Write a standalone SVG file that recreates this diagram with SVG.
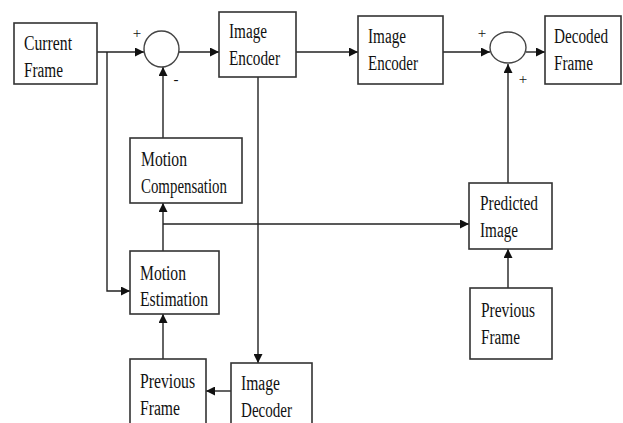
<svg xmlns="http://www.w3.org/2000/svg" width="623" height="423" viewBox="0 0 623 423">
<defs>
<marker id="arr" markerUnits="userSpaceOnUse" markerWidth="9" markerHeight="9" viewBox="0 0 10 10" refX="10" refY="5" orient="auto">
<path d="M0,0 L10,5 L0,10 z" fill="#111"/>
</marker>
<style>
rect.box{fill:#fff;stroke:#333;stroke-width:1.6}
ellipse.sum{fill:#fff;stroke:#444;stroke-width:1.4}
text{font-family:"Liberation Serif","Times New Roman",serif;font-size:20px;fill:#111}
text.sign{font-size:15px;text-anchor:middle}
#connectors path{fill:none;stroke:#222;stroke-width:1.4}
</style>
</defs>
<rect width="623" height="423" fill="#fff"/>
<g id="connectors">
<path d="M97,52 L144,52" marker-end="url(#arr)"/>
<path d="M107,52 L107,291 L130,291" marker-end="url(#arr)"/>
<path d="M179,52 L219,52" marker-end="url(#arr)"/>
<path d="M296,52 L358,52" marker-end="url(#arr)"/>
<path d="M443,52 L490,52" marker-end="url(#arr)"/>
<path d="M526,52 L545,52" marker-end="url(#arr)"/>
<path d="M508,183 L508,64" marker-end="url(#arr)"/>
<path d="M163,138 L163,67" marker-end="url(#arr)"/>
<path d="M163,251 L163,203" marker-end="url(#arr)"/>
<path d="M163,359 L163,314" marker-end="url(#arr)"/>
<path d="M258,77 L258,363" marker-end="url(#arr)"/>
<path d="M231,391 L206,391" marker-end="url(#arr)"/>
<path d="M163,224 L469,224" marker-end="url(#arr)"/>
<path d="M508,288 L508,249" marker-end="url(#arr)"/>
</g>
<g id="sum1">
<ellipse class="sum" cx="161.5" cy="49" rx="17.5" ry="18"/>
<text class="sign" x="137" y="38">+</text>
<text class="sign" x="176" y="84">-</text>
</g>
<g id="sum2">
<ellipse class="sum" cx="508" cy="47.5" rx="18" ry="15.5"/>
<text class="sign" x="482" y="38">+</text>
<text class="sign" x="523" y="84">+</text>
</g>
<g id="current-frame">
<rect class="box" x="14" y="23" width="83" height="61"/>
<text x="24" y="50" textLength="48" lengthAdjust="spacingAndGlyphs">Current</text>
<text x="24" y="77" textLength="39" lengthAdjust="spacingAndGlyphs">Frame</text>
</g>
<g id="image-encoder-1">
<rect class="box" x="219" y="12" width="77" height="65"/>
<text x="229" y="38" textLength="38" lengthAdjust="spacingAndGlyphs">Image</text>
<text x="229" y="65" textLength="51" lengthAdjust="spacingAndGlyphs">Encoder</text>
</g>
<g id="image-encoder-2">
<rect class="box" x="358" y="16" width="85" height="68"/>
<text x="368" y="43" textLength="38" lengthAdjust="spacingAndGlyphs">Image</text>
<text x="368" y="70" textLength="50" lengthAdjust="spacingAndGlyphs">Encoder</text>
</g>
<g id="decoded-frame">
<rect class="box" x="545" y="16" width="76" height="68"/>
<text x="554" y="43" textLength="54" lengthAdjust="spacingAndGlyphs">Decoded</text>
<text x="554" y="70" textLength="39" lengthAdjust="spacingAndGlyphs">Frame</text>
</g>
<g id="motion-compensation">
<rect class="box" x="130" y="138" width="112" height="65"/>
<text x="141" y="166" textLength="46" lengthAdjust="spacingAndGlyphs">Motion</text>
<text x="141" y="193" textLength="86" lengthAdjust="spacingAndGlyphs">Compensation</text>
</g>
<g id="motion-estimation">
<rect class="box" x="130" y="251" width="89" height="63"/>
<text x="140" y="280" textLength="46" lengthAdjust="spacingAndGlyphs">Motion</text>
<text x="140" y="306" textLength="68" lengthAdjust="spacingAndGlyphs">Estimation</text>
</g>
<g id="previous-frame-left">
<rect class="box" x="130" y="359" width="76" height="70"/>
<text x="140" y="388" textLength="55" lengthAdjust="spacingAndGlyphs">Previous</text>
<text x="140" y="415" textLength="40" lengthAdjust="spacingAndGlyphs">Frame</text>
</g>
<g id="image-decoder">
<rect class="box" x="231" y="363" width="81" height="66"/>
<text x="241" y="390" textLength="39" lengthAdjust="spacingAndGlyphs">Image</text>
<text x="241" y="417" textLength="51" lengthAdjust="spacingAndGlyphs">Decoder</text>
</g>
<g id="predicted-image">
<rect class="box" x="469" y="183" width="83" height="66"/>
<text x="480" y="210" textLength="58" lengthAdjust="spacingAndGlyphs">Predicted</text>
<text x="480" y="237" textLength="38" lengthAdjust="spacingAndGlyphs">Image</text>
</g>
<g id="previous-frame-right">
<rect class="box" x="470" y="288" width="82" height="71"/>
<text x="481" y="317" textLength="54" lengthAdjust="spacingAndGlyphs">Previous</text>
<text x="481" y="344" textLength="39" lengthAdjust="spacingAndGlyphs">Frame</text>
</g>
</svg>
